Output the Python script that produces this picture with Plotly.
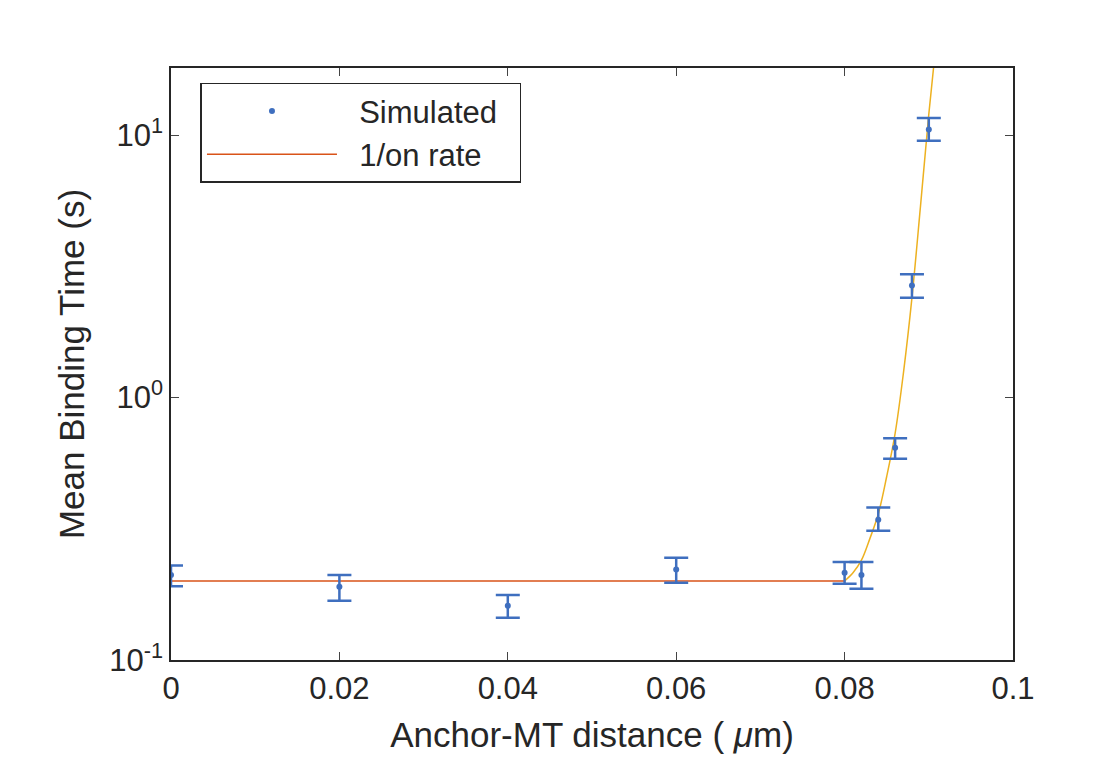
import plotly.graph_objects as go
import numpy as np

# simulated mean binding times
sim_x = [0, 0.02, 0.04, 0.06, 0.08, 0.082, 0.084, 0.086, 0.088, 0.09]
sim_y = [0.211, 0.19, 0.161, 0.221, 0.215, 0.211, 0.342, 0.644, 2.67, 10.5]
sim_hi = [0.229, 0.211, 0.177, 0.245, 0.236, 0.236, 0.381, 0.70, 2.95, 11.6]
sim_lo = [0.191, 0.168, 0.145, 0.197, 0.195, 0.187, 0.311, 0.584, 2.40, 9.5]

# 1/on rate line
rate_x = [0, 0.08]
rate_y = [0.2, 0.2]

# steep rise curve
curve_x = [0.08, 0.081, 0.082, 0.083, 0.084, 0.085, 0.086, 0.087, 0.088, 0.089, 0.09, 0.0906]
curve_y = [0.2, 0.215, 0.24, 0.29, 0.36, 0.5, 0.73, 1.25, 2.4, 5.3, 12, 18.5]

blue = '#3F6FBF'
err_plus = list(np.array(sim_hi) - np.array(sim_y))
err_minus = list(np.array(sim_y) - np.array(sim_lo))

fig = go.Figure()
fig.add_trace(go.Scatter(
    x=curve_x, y=curve_y, mode='lines', line=dict(color='#EDB120', width=1.5, shape='spline'),
    showlegend=False))
fig.add_trace(go.Scatter(
    x=rate_x, y=rate_y, mode='lines', line=dict(color='#D95319', width=1.5),
    name='  1/on rate  '))
fig.add_trace(go.Scatter(
    x=sim_x, y=sim_y, mode='markers', marker=dict(color=blue, size=6),
    error_y=dict(type='data', symmetric=False, array=err_plus, arrayminus=err_minus,
                 color=blue, thickness=2.5, width=12),
    name='  Simulated  '))

ticks = [0.1, 1, 10]
tick_text = ['10<sup>-1</sup>', '10<sup>0</sup>', '10<sup>1</sup>']

fig.update_layout(
    width=1112, height=779,
    paper_bgcolor='white', plot_bgcolor='white',
    margin=dict(l=163, r=107, t=60, b=127),
    font=dict(family='Liberation Sans, Arial', size=31, color='#262626'),
    legend=dict(x=0.035, y=0.975, xanchor='left', yanchor='top', traceorder='reversed',
                bordercolor='#262626', borderwidth=1.5, bgcolor='white',
                itemwidth=130, font=dict(size=31)),
    xaxis=dict(range=[0, 0.1], tickvals=[0, 0.02, 0.04, 0.06, 0.08, 0.1],
               ticktext=['0', '0.02', '0.04', '0.06', '0.08', '0.1'],
               ticks='inside', ticklen=8, mirror='ticks', showline=True,
               linecolor='#262626', linewidth=1.5, showgrid=False, zeroline=False,
               title=dict(text='Anchor-MT distance ( <i>μ</i>m)', font=dict(size=35), standoff=18)),
    yaxis=dict(type='log', range=[-1, np.log10(18)], tickvals=ticks, ticktext=tick_text,
               ticks='inside', ticklen=8, mirror='ticks', showline=True,
               linecolor='#262626', linewidth=1.5, showgrid=False, zeroline=False,
               title=dict(text='Mean Binding Time (s)', font=dict(size=35), standoff=14)),
)

fig.write_html("out.html")
